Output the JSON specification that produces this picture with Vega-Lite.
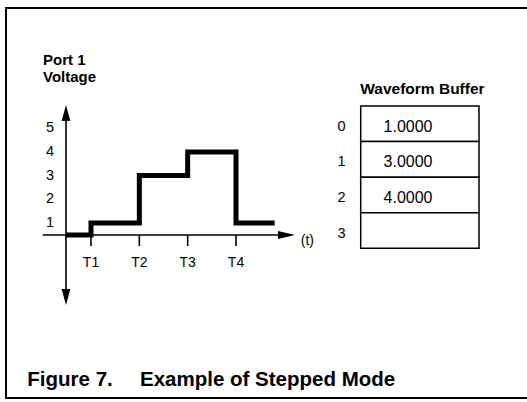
{
  "$schema": "https://vega.github.io/schema/vega-lite/v6.json",
  "width": 527,
  "height": 402,
  "autosize": {"type": "fit", "contains": "padding"},
  "padding": {"left": 6, "top": 8, "right": -2, "bottom": 4},
  "background": "white",
  "config": {
    "view": {"stroke": "black", "strokeWidth": 2},
    "text": {"font": "Liberation Sans", "color": "black"}
  },
  "resolve": {"scale": {"x": "independent", "y": "independent"}},
  "layer": [
    {
      "layer": [
        {
          "data": {"values": [
            {"t": 0, "v": 0}, {"t": 1, "v": 1}, {"t": 2, "v": 3},
            {"t": 3, "v": 4}, {"t": 4, "v": 1}, {"t": 4.8, "v": 1}
          ]},
          "mark": {"type": "line", "interpolate": "step-after", "strokeWidth": 5, "color": "black", "strokeCap": "butt", "strokeJoin": "miter"},
          "encoding": {
            "x": {"field": "t", "type": "quantitative", "axis": null,
                  "scale": {"domain": [0, 1, 4], "range": [60, 85, 230], "nice": false, "zero": false}},
            "y": {"field": "v", "type": "quantitative", "axis": null,
                  "scale": {"domain": [-3, 0, 1, 5], "range": [298.1, 227, 215, 120.2], "nice": false, "zero": false}}
          }
        },
        {
          "data": {"values": [{}]},
          "mark": {"type": "rule", "strokeWidth": 1.6, "color": "black"},
          "encoding": {
            "x": {"datum": 0, "axis": null},
            "y": {"datum": -2.5, "axis": null},
            "y2": {"datum": 5.55}
          }
        },
        {
          "data": {"values": [{}]},
          "mark": {"type": "rule", "strokeWidth": 1.6, "color": "black"},
          "encoding": {
            "x": {"datum": -0.93, "axis": null},
            "x2": {"datum": 4.95},
            "y": {"datum": 0, "axis": null}
          }
        },
        {
          "data": {"values": [{}]},
          "mark": {"type": "point", "shape": "M0,-1L0.55,1L-0.55,1Z", "size": 256, "filled": true, "color": "black", "opacity": 1, "strokeWidth": 0},
          "encoding": {
            "x": {"datum": 0, "axis": null},
            "y": {"datum": 5.64, "axis": null}
          }
        },
        {
          "data": {"values": [{}]},
          "mark": {"type": "point", "shape": "M0,1L0.55,-1L-0.55,-1Z", "size": 256, "filled": true, "color": "black", "opacity": 1, "strokeWidth": 0},
          "encoding": {
            "x": {"datum": 0, "axis": null},
            "y": {"datum": -2.616, "axis": null}
          }
        },
        {
          "data": {"values": [{}]},
          "mark": {"type": "point", "shape": "M1,0L-1,-0.47L-1,0.47Z", "size": 289, "filled": true, "color": "black", "opacity": 1, "strokeWidth": 0},
          "encoding": {
            "x": {"datum": 5.045, "axis": null},
            "y": {"datum": 0, "axis": null}
          }
        },
        {
          "data": {"values": [
            {"t": 1, "label": "T1"}, {"t": 2, "label": "T2"},
            {"t": 3, "label": "T3"}, {"t": 4, "label": "T4"}
          ]},
          "layer": [
            {
              "mark": {"type": "rule", "strokeWidth": 1.6, "color": "black"},
              "encoding": {
                "x": {"field": "t", "type": "quantitative", "axis": null},
                "y": {"datum": 0, "axis": null},
                "y2": {"datum": -0.464}
              }
            },
            {
              "mark": {"type": "text", "fontSize": 14, "baseline": "middle", "align": "center"},
              "encoding": {
                "x": {"field": "t", "type": "quantitative", "axis": null},
                "y": {"datum": -1.18, "axis": null},
                "text": {"field": "label"}
              }
            }
          ]
        },
        {
          "data": {"values": [{"v": 1}, {"v": 2}, {"v": 3}, {"v": 4}, {"v": 5}]},
          "mark": {"type": "text", "fontSize": 14.5, "baseline": "middle", "align": "center"},
          "encoding": {
            "x": {"datum": -0.64, "axis": null},
            "y": {"field": "v", "type": "quantitative", "axis": null},
            "text": {"field": "v", "type": "quantitative"}
          }
        },
        {
          "data": {"values": [{}]},
          "mark": {"type": "text", "text": "Port 1", "fontSize": 15, "fontWeight": "bold", "align": "left", "baseline": "alphabetic"},
          "encoding": {
            "x": {"datum": -0.92, "axis": null},
            "y": {"datum": 7.667, "axis": null}
          }
        },
        {
          "data": {"values": [{}]},
          "mark": {"type": "text", "text": "Voltage", "fontSize": 15, "fontWeight": "bold", "align": "left", "baseline": "alphabetic"},
          "encoding": {
            "x": {"datum": -0.92, "axis": null},
            "y": {"datum": 6.949, "axis": null}
          }
        },
        {
          "data": {"values": [{}]},
          "mark": {"type": "text", "text": "(t)", "fontSize": 14, "align": "center", "baseline": "middle"},
          "encoding": {
            "x": {"datum": 5.476, "axis": null},
            "y": {"datum": -0.253, "axis": null}
          }
        },
        {
          "data": {"values": [{}]},
          "mark": {"type": "text", "text": "Figure 7.", "fontSize": 20.5, "fontWeight": "bold", "align": "left", "baseline": "alphabetic"},
          "encoding": {
            "x": {"datum": -1.548, "axis": null},
            "y": {"datum": -6.371, "axis": null}
          }
        },
        {
          "data": {"values": [{}]},
          "mark": {"type": "text", "text": "Example of Stepped Mode", "fontSize": 20.5, "fontWeight": "bold", "align": "left", "baseline": "alphabetic"},
          "encoding": {
            "x": {"datum": 2.014, "axis": null},
            "y": {"datum": -6.371, "axis": null}
          }
        }
      ]
    },
    {
      "data": {"values": [
        {"idx": 0, "value": "1.0000"},
        {"idx": 1, "value": "3.0000"},
        {"idx": 2, "value": "4.0000"},
        {"idx": 3, "value": ""}
      ]},
      "layer": [
        {
          "mark": {"type": "rect", "fill": "white", "stroke": "black", "strokeWidth": 1.5},
          "encoding": {
            "x": {"datum": 0, "axis": null,
                  "scale": {"domain": [0, 1], "range": [354.7, 473], "nice": false, "zero": false}},
            "x2": {"datum": 1},
            "y": {"field": "idx", "type": "ordinal", "axis": null,
                  "scale": {"type": "band", "domain": [0, 1, 2, 3], "range": [98, 240.3], "paddingInner": 0, "paddingOuter": 0}}
          }
        },
        {
          "mark": {"type": "text", "fontSize": 14.5, "align": "center", "baseline": "middle", "dy": 3},
          "encoding": {
            "x": {"datum": -0.162, "axis": null},
            "y": {"field": "idx", "type": "ordinal", "axis": null},
            "text": {"field": "idx", "type": "nominal"}
          }
        },
        {
          "mark": {"type": "text", "fontSize": 16, "align": "left", "baseline": "middle", "dy": 3},
          "encoding": {
            "x": {"datum": 0.193, "axis": null},
            "y": {"field": "idx", "type": "ordinal", "axis": null},
            "text": {"field": "value", "type": "nominal"}
          }
        },
        {
          "transform": [{"filter": "datum.idx == 0"}],
          "mark": {"type": "text", "text": "Waveform Buffer", "fontSize": 15.5, "fontWeight": "bold", "align": "center", "baseline": "middle", "dy": -34.5},
          "encoding": {
            "x": {"datum": 0.522, "axis": null},
            "y": {"field": "idx", "type": "ordinal", "axis": null}
          }
        }
      ]
    }
  ]
}
